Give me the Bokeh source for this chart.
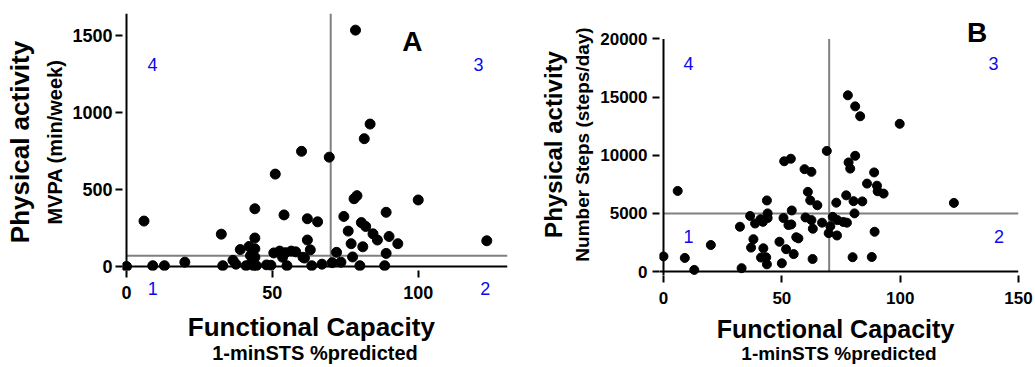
from bokeh.plotting import figure
from bokeh.models import Range1d, FixedTicker, LinearAxis, Label
from bokeh.layouts import row
from bokeh.embed import file_html
from bokeh.resources import INLINE

FONT = "Liberation Sans"
BLUE = "#0a0af0"
GREY = "#808080"

# ---------------- Panel A data: functional capacity vs MVPA ----------------
a_fc = [0, 6, 9, 13, 20, 32.5, 33, 36.5, 37.5, 39, 41, 42, 42.5, 43, 43.5, 44, 44, 44, 44, 44.5,
        48, 49.5, 51, 50.5, 52.5, 53.5, 54, 54.5, 55, 56.5, 58, 60, 60.5, 62, 62, 63, 63.5, 61,
        65.5, 67, 69.5, 70.5, 72, 73.5, 74.5, 76, 77, 77.5, 78, 79, 78.5, 80, 80.5, 81, 81.5,
        82, 83.5, 84.5, 86, 88.5, 89, 89, 90, 93, 100, 123.5]
a_mvpa = [0, 295, 5, 5, 28, 210, 5, 40, 15, 110, 5, 130, 70, 28, 5, 375, 185, 115, 60, 5,
          10, 8, 600, 88, 100, 60, 335, 90, 5, 100, 95, 748, 60, 310, 172, 108, 5, 55,
          290, 15, 710, 25, 92, 28, 325, 230, 148, 62, 440, 460, 1535, 5, 285, 128, 830,
          260, 925, 212, 172, 5, 85, 352, 195, 148, 432, 167]
a_x_ticks = [0, 50, 100]
a_y_ticks = [0, 500, 1000, 1500]
a_fc_cut = 70
a_mvpa_cut = 70

# ---------------- Panel B data: functional capacity vs steps ----------------
b_fc = [0, 6, 9, 13, 20, 32.3, 33, 36.6, 37, 38, 38.7, 41, 41.2, 42, 42.2, 43.4, 43.7, 44, 43.7, 44,
        49, 50, 51, 50.7, 51.8, 52.8, 53.8, 54.2, 54, 55, 56.1, 57, 59.6, 60, 61, 62, 62.5, 62.5,
        63.1, 63, 65, 67, 69, 69.8, 70.5, 71.5, 73, 73.3, 73.5, 76, 77.2, 77.9, 78.2, 78.9, 77.5,
        79.9, 80.3, 80.7, 81, 81, 83.1, 84, 86, 88, 89, 89.2, 90.2, 90.5, 93, 99.8, 122.7]
b_steps = [1300, 6930, 1170, 140, 2280, 3850, 290, 4780, 2060, 2780, 4130, 4500, 1200, 4270, 2000,
           1220, 6110, 5000, 620, 4600, 2560, 710, 9480, 4600, 1920, 4000, 9700, 5250, 4050, 1500,
           2950, 2850, 8800, 4650, 6850, 6120, 8570, 4420, 3680, 1080, 5700, 4200, 10370, 3300,
           3900, 4700, 5920, 3100, 4420, 4260, 6550, 15150, 9380, 8850, 4200, 1230, 6050, 5000,
           9950, 14200, 13350, 6030, 7560, 1250, 8520, 3420, 7380, 6900, 6700, 12700, 5900]
b_x_ticks = [0, 50, 100, 150]
b_y_ticks = [0, 5000, 10000, 15000, 20000]
b_fc_cut = 70
b_steps_cut = 5000

x_title = "Functional  Capacity"
x_sub = "1-minSTS %predicted"
y_title = "Physical activity"


def style_axis(ax, tick_size):
    ax.axis_line_color = None
    ax.major_tick_line_color = "black"
    ax.major_tick_line_width = 2
    ax.major_tick_in = 0
    ax.major_tick_out = 7
    ax.minor_tick_line_color = None
    ax.major_label_text_font = FONT
    ax.major_label_text_font_style = "bold"
    ax.major_label_text_font_size = tick_size
    ax.major_label_text_color = "black"
    ax.axis_label_text_font = FONT
    ax.axis_label_text_font_style = "bold"
    ax.axis_label_text_color = "black"


def label_axis(label, size, standoff, ticks=None, overrides=None, lab_style=None):
    ax = LinearAxis(ticker=FixedTicker(ticks=ticks or []), axis_label=label)
    ax.axis_line_color = None
    ax.major_tick_line_color = None
    ax.minor_tick_line_color = None
    ax.major_tick_in = 0
    ax.major_tick_out = 0
    ax.major_label_standoff = 0
    ax.axis_label_standoff = standoff
    ax.axis_label_text_font = FONT
    ax.axis_label_text_font_style = "bold"
    ax.axis_label_text_font_size = size
    ax.axis_label_text_color = "black"
    if overrides:
        ax.major_label_overrides = overrides
    if lab_style:
        ax.major_label_standoff = lab_style["standoff"]
        ax.major_label_text_font = FONT
        ax.major_label_text_font_style = "normal"
        ax.major_label_text_font_size = lab_style["size"]
        ax.major_label_text_color = BLUE
    return ax


def base(width, height, xr, yr, borders, xs, ys, dot, xcut, ycut, x_end, y_end):
    bl, br, bt, bb = borders
    p = figure(width=width, height=height, x_range=Range1d(*xr), y_range=Range1d(*yr),
               output_backend="svg", toolbar_location=None, frame_align=False,
               min_border_left=bl, min_border_right=br, min_border_top=bt,
               min_border_bottom=bb)
    p.title.visible = False
    p.outline_line_color = None
    p.xgrid.visible = False
    p.ygrid.visible = False
    p.background_fill_color = "white"
    p.border_fill_color = "white"
    # quadrant cut lines
    p.segment(x0=[xcut], y0=[0], x1=[xcut], y1=[y_end], line_color=GREY, line_width=2)
    p.segment(x0=[0], y0=[ycut], x1=[x_end], y1=[ycut], line_color=GREY, line_width=2)
    # axis lines crossing at the origin
    p.segment(x0=[0], y0=[yr[0]], x1=[0], y1=[y_end], line_color="black", line_width=2)
    p.segment(x0=[xr[0]], y0=[0], x1=[x_end], y1=[0], line_color="black", line_width=2)
    p.scatter(xs, ys, size=dot, color="black")
    return p


def add_text(p, x, y, text, size, color="black", bold=False):
    p.add_layout(Label(x=x, y=y, text=text, text_align="center", text_baseline="middle",
                       text_font=FONT, text_font_style="bold" if bold else "normal",
                       text_font_size=size, text_color=color))


# ============================ Panel A ============================
a_xr = (-1.37, 130.6)
a_yr = (-26, 1643)
pa = base(522, 366, a_xr, a_yr, (122, 15, 13, 96), a_fc, a_mvpa, 10,
          a_fc_cut, a_mvpa_cut, a_xr[1], a_yr[1])
xa, ya = pa.xaxis[0], pa.yaxis[0]
style_axis(xa, "18px")
style_axis(ya, "18px")
xa.ticker = FixedTicker(ticks=a_x_ticks)
ya.ticker = FixedTicker(ticks=a_y_ticks)
xa.major_label_standoff = 8
ya.major_label_standoff = 3
ya.axis_label = "MVPA (min/week)"
ya.axis_label_text_font_size = "20px"
ya.axis_label_standoff = 3
pa.add_layout(label_axis(y_title, "26px", 7), "left")
# quadrant numbers 1 and 2 sit in the tick-label row under the x axis
pa.add_layout(label_axis(x_title, "26px", 14, ticks=[9, 123], overrides={9: "1", 123: "2"},
                         lab_style={"standoff": -20, "size": "18px"}), "below")
pa.add_layout(label_axis(x_sub, "20px", -3), "below")
add_text(pa, 98, 1460, "A", "28px", bold=True)
add_text(pa, 120.7, 1310, "3", "18px", BLUE)
add_text(pa, 8.9, 1310, "4", "18px", BLUE)

# ============================ Panel B ============================
b_xr = (-1.69, 150)
b_yr = (-341, 22184)
pb = base(512, 366, b_xr, b_yr, (137, 16, 13, 89), b_fc, b_steps, 9,
          b_fc_cut, b_steps_cut, b_x_ticks[-1], b_y_ticks[-1])
xb, yb = pb.xaxis[0], pb.yaxis[0]
style_axis(xb, "17px")
style_axis(yb, "17px")
xb.ticker = FixedTicker(ticks=b_x_ticks)
yb.ticker = FixedTicker(ticks=b_y_ticks)
xb.major_label_standoff = 9
yb.major_label_standoff = 5
xb.axis_label = x_title
xb.axis_label_text_font_size = "25px"
xb.axis_label_standoff = 8
yb.axis_label = "Number Steps (steps/day)"
yb.axis_label_text_font_size = "19px"
yb.axis_label_standoff = 4
pb.add_layout(label_axis(y_title, "24px", 3), "left")
pb.add_layout(label_axis(x_sub, "19px", -3), "below")
add_text(pb, 132.5, 20590, "B", "28px", bold=True)
add_text(pb, 10.6, 17918, "4", "18px", BLUE)
add_text(pb, 139.4, 17918, "3", "18px", BLUE)
add_text(pb, 10.6, 2986, "1", "18px", BLUE)
add_text(pb, 141.8, 2986, "2", "18px", BLUE)

layout = row(pa, pb)
open("out.html", "w").write(file_html(layout, INLINE))
